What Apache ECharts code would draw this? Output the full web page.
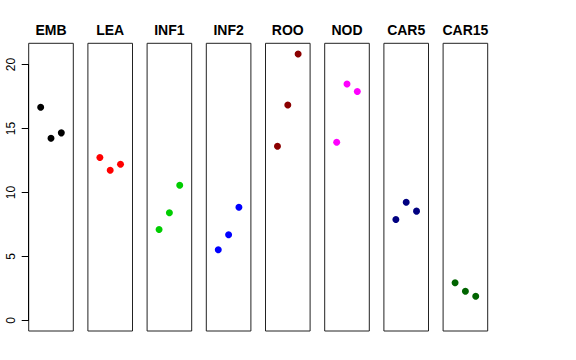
<!DOCTYPE html>
<html><head><meta charset="utf-8">
<script src="https://cdn.jsdelivr.net/npm/echarts@6/dist/echarts.min.js"></script>
<style>html,body{margin:0;padding:0;background:#fff}#c{width:576px;height:360px}</style>
</head><body><div id="c"></div>
<script>
const panels = ['EMB','LEA','INF1','INF2','ROO','NOD','CAR5','CAR15'];
const colors = ['#000000','#FF0000','#00CD00','#0000FF','#8B0000','#FF00FF','#000080','#006400'];
const xPos = [1, 2, 3];
const EMB = [16.66, 14.24, 14.66];
const LEA = [12.73, 11.74, 12.21];
const INF1 = [7.11, 8.41, 10.57];
const INF2 = [5.52, 6.69, 8.85];
const ROO = [13.62, 16.84, 20.83];
const NOD = [13.93, 18.48, 17.89];
const CAR5 = [7.89, 9.24, 8.54];
const CAR15 = [2.94, 2.27, 1.88];
const seriesValues = [EMB, LEA, INF1, INF2, ROO, NOD, CAR5, CAR15];
const yTicks = [0, 5, 10, 15, 20];

const yLo = 0, yHi = 20.83, yPad = (yHi - yLo) * 0.04;
const xLo = 0, xHi = 4, xPad = (xHi - xLo) * 0.04;

const L0 = 28.7, step = 59.2, W = 44.6, TOP = 43.3, H = 287.7;
const grids = [], xAxes = [], yAxes = [], series = [], graphics = [];
panels.forEach((p, i) => {
  const left = L0 + step * i;
  grids.push({left: left, top: TOP, width: W, height: H, show: true, borderColor: '#222', borderWidth: 1, backgroundColor: 'transparent'});
  xAxes.push({gridIndex: i, type: 'value', min: xLo - xPad, max: xHi + xPad, show: false});
  yAxes.push({gridIndex: i, type: 'value', min: yLo - yPad, max: yHi + yPad, show: false});
  series.push({type: 'scatter', xAxisIndex: i, yAxisIndex: i, symbol: 'circle', symbolSize: 7,
    itemStyle: {color: colors[i], opacity: 1}, data: xPos.map((x, k) => [x, seriesValues[i][k]]), silent: true, animation: false});
  graphics.push({type: 'text', x: left + W / 2, y: 29.5, style: {text: p, fill: '#000', font: 'bold 14px "Liberation Sans", Arial, sans-serif', textAlign: 'center', textVerticalAlign: 'middle'}});
});
// left axis (0..20) drawn as its own grid aligned with the panel scale
const pxPerUnit = H / ((yHi + yPad) - (yLo - yPad));
const axTop = TOP + ((yHi + yPad) - yTicks[yTicks.length - 1]) * pxPerUnit;
const axH = (yTicks[yTicks.length - 1] - yTicks[0]) * pxPerUnit;
const gi = panels.length;
grids.push({left: L0, top: axTop, width: 1, height: axH, show: false});
xAxes.push({gridIndex: gi, type: 'value', show: false});
yAxes.push({gridIndex: gi, type: 'value', min: yTicks[0], max: yTicks[yTicks.length - 1], interval: 5,
  axisLine: {show: true, lineStyle: {color: '#000', width: 1}},
  axisTick: {show: true, inside: false, length: 7, lineStyle: {color: '#000'}},
  splitLine: {show: false},
  axisLabel: {rotate: 90, margin: 12, color: '#000', fontSize: 12, fontFamily: '"Liberation Sans", Arial, sans-serif'}});

const chart = echarts.init(document.getElementById('c'), null, {renderer: 'svg'});
chart.setOption({animation: false, grid: grids, xAxis: xAxes, yAxis: yAxes, series: series, graphic: graphics});
</script></body></html>
